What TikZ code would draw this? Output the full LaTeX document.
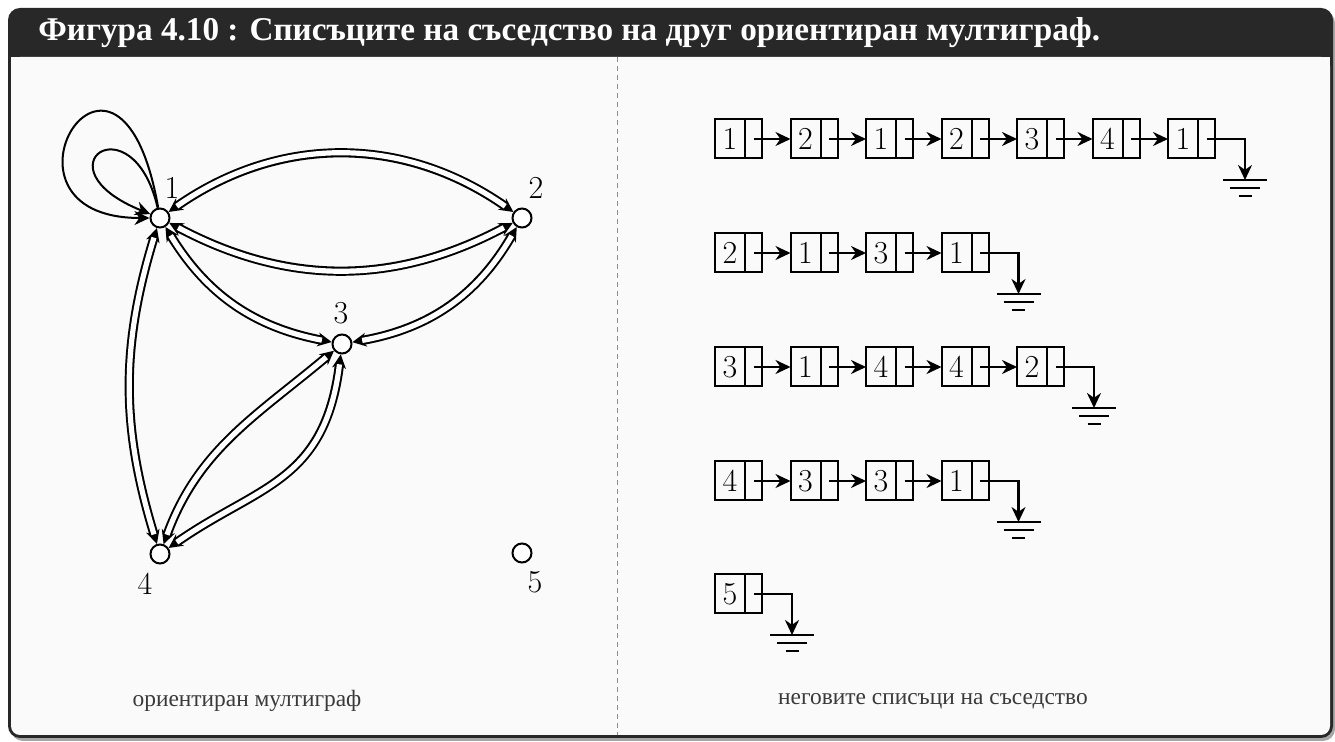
\documentclass[tikz,border=0pt]{standalone}
\usepackage{fontspec}
\newfontfamily\cyrfont{Liberation Serif}
\usetikzlibrary{arrows.meta,positioning}
\definecolor{barcol}{HTML}{282828}
\definecolor{bodycol}{HTML}{FAFAFA}
\definecolor{capcol}{HTML}{3A3A3A}

\begin{document}
\begin{tikzpicture}[x=0.5pt, y=0.5pt, >={Stealth[length=7.5pt, width=7pt]},
  vert/.style={circle, draw, fill=white, line width=1pt, minimum size=9.5pt,
    inner sep=0pt},
  num/.style={font=\fontsize{16}{19}\selectfont, inner sep=0pt},
  edge/.style={{Stealth[length=7pt, width=7pt, line width=0pt]}-{Stealth[length=7pt, width=7pt, line width=0pt]},
    line width=4.6pt,
    postaction={draw=white, line width=2.6pt, -, shorten <=5pt, shorten >=5pt}},
  selfedge/.style={->, line width=1pt},
  cell/.style={draw, line width=1pt, outer sep=0pt, inner sep=0pt,
    minimum width=15pt, minimum height=19.5pt, font=\fontsize{16}{19}\selectfont},
  ptr/.style={draw, line width=1pt, outer sep=0pt, inner sep=0pt,
    minimum width=8.5pt, minimum height=19.5pt},
  link/.style={->, line width=1.2pt},
  caption/.style={font=\cyrfont\fontsize{11.7}{14}\selectfont, text=capcol}]
  \useasboundingbox (0,0) rectangle (1335,-742);
  % frame
  \fill[black!35, rounded corners=6pt] (11,-11) rectangle (1335,-741);
  \fill[barcol, rounded corners=6pt] (8,-8) rectangle (1333,-738);
  \fill[bodycol, rounded corners=4.5pt] (11,-57) rectangle (1330,-735);
  \fill[bodycol] (11,-57) rectangle (1330,-100);
  \draw[black!45, line width=0.5pt, dash pattern=on 2.5pt off 2pt]
    (617,-57) -- (617,-735);
  \node[anchor=west, inner sep=0pt, text=white,
    font=\cyrfont\bfseries\fontsize{16.6}{19}\selectfont]
    (title) at (38,-33) {Фигура 4.10 : Списъците на съседство на друг ориентиран мултиграф.};

  % multigraph
  \node[vert] (v1) at (160,-218) {};
  \node[vert] (v2) at (522,-218) {};
  \node[vert] (v3) at (342,-344) {};
  \node[vert] (v4) at (160,-554) {};
  \node[vert] (v5) at (522,-553) {};
  \node[num] (t1) at (172,-188) {1};
  \node[num] (t2) at (536,-188) {2};
  \node[num] (t3) at (341,-313) {3};
  \node[num] (t4) at (145,-584) {4};
  \node[num] (t5) at (535,-582) {5};
  \draw[selfedge] (v1) .. controls +(100:238) and +(180:185) .. (v1);
  \draw[selfedge] (v1) .. controls +(103:122) and +(158:135) .. (v1);
  \draw[edge] (v1) to[bend left=35] (v2);
  \draw[edge] (v1) to[bend right=28] (v2);
  \draw[edge] (v1) to[bend right=24] (v3);
  \draw[edge] (v3) to[bend right=25] (v2);
  \draw[edge] (v1) to[bend right=17] (v4);
  \draw[edge] (v4) to[out=70, in=-140] (v3);
  \draw[edge] (v3) .. controls +(-97:140) and +(35:120) .. (v4);

  % adjacency lists
  \foreach \r/\y/\n/\lst in {1/139/7/{1,2,1,2,3,4,1}, 2/253/4/{2,1,3,1},
      3/367/5/{3,1,4,4,2}, 4/481/4/{4,3,3,1}, 5/594/1/{5}} {
    \foreach \v [count=\k, remember=\k as \j (initially 0)] in \lst {
      \node[cell] (d\r-\k) at ({730+75.5*(\k-1)}, -\y) {\v};
      \node[ptr, right=0pt of d\r-\k] (p\r-\k) {};
      \ifnum\k>1 \draw[link] (p\r-\j.center) -- (d\r-\k.west); \fi
    }
    \coordinate (g\r) at ({792+75.5*(\n-1)}, {-\y-41});
    \draw[link] (p\r-\n.center) -| (g\r);
    \draw[line width=1pt] ([xshift=-11pt]g\r) -- ([xshift=11pt]g\r)
      ([shift={(-7.5pt,-4pt)}]g\r) -- ([shift={(7.5pt,-4pt)}]g\r)
      ([shift={(-3.25pt,-8pt)}]g\r) -- ([shift={(3.25pt,-8pt)}]g\r);
  }

  \node[caption] (cap1) at (247,-701) {ориентиран мултиграф};
  \node[caption] (cap2) at (933,-701) {неговите списъци на съседство};
\end{tikzpicture}
\end{document}
